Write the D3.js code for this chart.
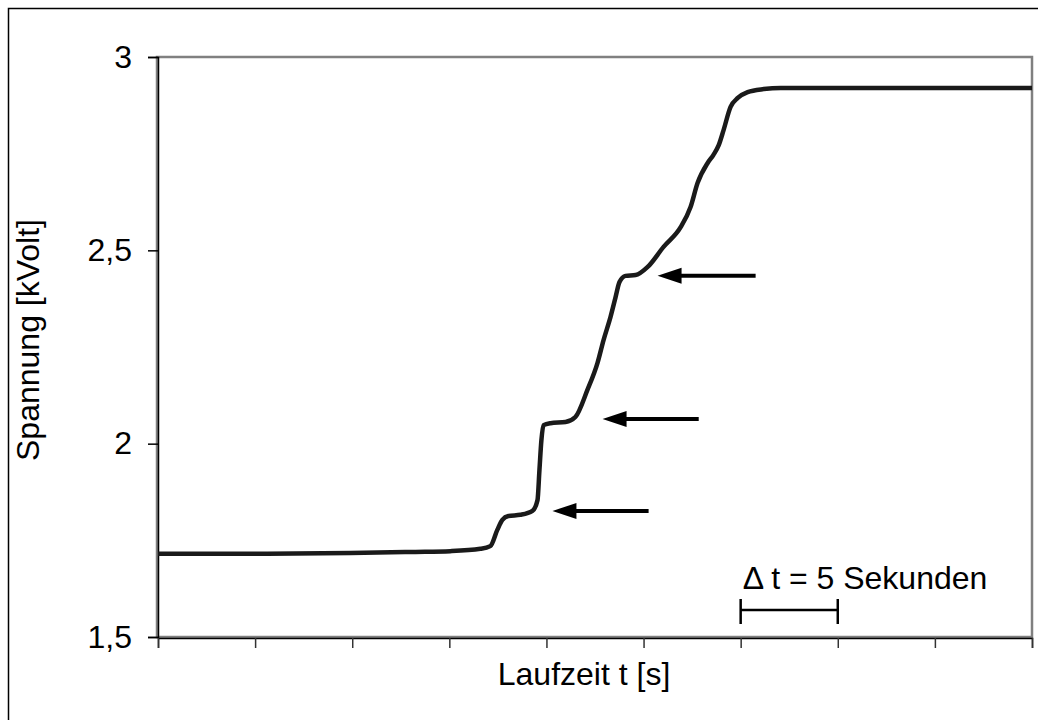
<!DOCTYPE html>
<html><head><meta charset="utf-8">
<script src="https://d3js.org/d3.v7.min.js"></script>
<style>body{margin:0;background:#fff}svg{display:block}</style>
</head><body>
<script>
// Data (time in seconds, voltage in kV)
const timeSec = [0, 4.74, 9.9, 13.14, 15.05, 16.6, 17.11, 17.47, 17.73, 18.04, 18.66, 19.28, 19.54, 19.64, 19.74, 19.85, 20.21, 20.98, 21.49, 22.11, 22.63, 22.94, 23.3, 23.56, 23.76, 24.07, 24.59, 25.21, 26.03, 26.91, 27.42, 27.78, 28.3, 28.6, 28.87, 29.12, 29.48, 29.85, 30.36, 31.19, 32.06, 45];
const voltage = [1.715, 1.715, 1.717, 1.72, 1.722, 1.728, 1.735, 1.777, 1.803, 1.813, 1.816, 1.826, 1.854, 1.932, 2.009, 2.048, 2.053, 2.056, 2.069, 2.139, 2.209, 2.268, 2.328, 2.379, 2.418, 2.434, 2.436, 2.457, 2.509, 2.56, 2.612, 2.674, 2.726, 2.747, 2.772, 2.811, 2.871, 2.894, 2.909, 2.917, 2.92, 2.92];
const yTicks = [1.5, 2, 2.5, 3];
const yTickLabels = ["1,5", "2", "2,5", "3"];
const xTicks = [0, 5, 10, 15, 20, 25, 30, 35, 40, 45];
// Arrow annotations: tip (t, V) and tail t
const arrowTipT = [20.31, 22.89, 25.72];
const arrowTipV = [1.826, 2.064, 2.434];
const arrowTailT = [25.26, 27.84, 30.77];
// Scale bar
const barStart = 30, barEnd = 35;
const barLabel = "Δ t = 5 Sekunden";

const W = 1038, H = 720;
const m = {left: 158, top: 57, right: 1032, bottom: 637};
const x = d3.scaleLinear().domain([0, 45]).range([m.left, m.right]);
const y = d3.scaleLinear().domain([1.5, 3]).range([m.bottom, m.top]);

const svg = d3.select("body").append("svg").attr("width", W).attr("height", H);
const font = "'Liberation Sans', Arial, sans-serif";
const fs = 32;

// outer chart border (extends past the window)
svg.append("rect").attr("x", 8.5).attr("y", 8.5).attr("width", 1100).attr("height", 800)
  .attr("fill", "#fff").attr("stroke", "#000").attr("stroke-width", 1.5);

// plot area border
svg.append("rect").attr("x", m.left - 1).attr("y", m.top).attr("width", m.right - m.left + 1).attr("height", m.bottom - m.top)
  .attr("fill", "#fff").attr("stroke", "#808080").attr("stroke-width", 2.5);

// y axis
const yAxis = d3.axisLeft(y).tickValues(yTicks).tickSize(10).tickFormat((d, i) => yTickLabels[i]).tickPadding(16);
const gy = svg.append("g").attr("transform", `translate(${m.left},0)`).call(yAxis);
gy.select(".domain").attr("stroke", "#000").attr("stroke-width", 1.5);
gy.selectAll(".tick line").attr("stroke", "#000").attr("stroke-width", 1.5);
gy.selectAll("text").attr("font-family", font).attr("font-size", fs).attr("fill", "#000");

// x axis
const xAxis = d3.axisBottom(x).tickValues(xTicks).tickSize(10).tickFormat("");
const gx = svg.append("g").attr("transform", `translate(0,${m.bottom + 1})`).call(xAxis);
gx.select(".domain").attr("stroke", "#000").attr("stroke-width", 1.5);
gx.selectAll(".tick line").attr("stroke", "#333").attr("stroke-width", 1.5);

// axis titles
svg.append("text").attr("x", 584).attr("y", 685).attr("text-anchor", "middle")
  .attr("font-family", font).attr("font-size", fs).text("Laufzeit t [s]");
svg.append("text").attr("transform", `translate(39,340) rotate(-90)`)
  .attr("text-anchor", "middle").attr("font-family", font).attr("font-size", fs).text("Spannung [kVolt]");

// curve
const pts = timeSec.map((t, i) => [t, voltage[i]]);
svg.append("path").datum(pts)
  .attr("d", d3.line().x(d => x(d[0])).y(d => y(d[1])).curve(d3.curveMonotoneX))
  .attr("fill", "none").attr("stroke", "#1a1a1a").attr("stroke-width", 4.5).attr("stroke-linejoin", "round");

// arrows
arrowTipT.forEach((t, i) => {
  const tx = x(t), ty = y(arrowTipV[i]), ex = x(arrowTailT[i]);
  svg.append("line").attr("x1", tx + 20).attr("y1", ty).attr("x2", ex).attr("y2", ty)
    .attr("stroke", "#000").attr("stroke-width", 4);
  svg.append("path").attr("d", `M${tx},${ty} L${tx + 24},${ty - 8} L${tx + 24},${ty + 8} Z`).attr("fill", "#000");
});

// scale bar
const by = 610;
svg.append("line").attr("x1", x(barStart)).attr("x2", x(barEnd)).attr("y1", by).attr("y2", by)
  .attr("stroke", "#000").attr("stroke-width", 2.5);
[barStart, barEnd].forEach(t => {
  svg.append("line").attr("x1", x(t)).attr("x2", x(t)).attr("y1", by - 11).attr("y2", by + 14)
    .attr("stroke", "#000").attr("stroke-width", 2.5);
});
svg.append("text").attr("x", x(barStart) + 2).attr("y", 589).attr("font-family", font).attr("font-size", fs).text(barLabel);
</script>
</body></html>
